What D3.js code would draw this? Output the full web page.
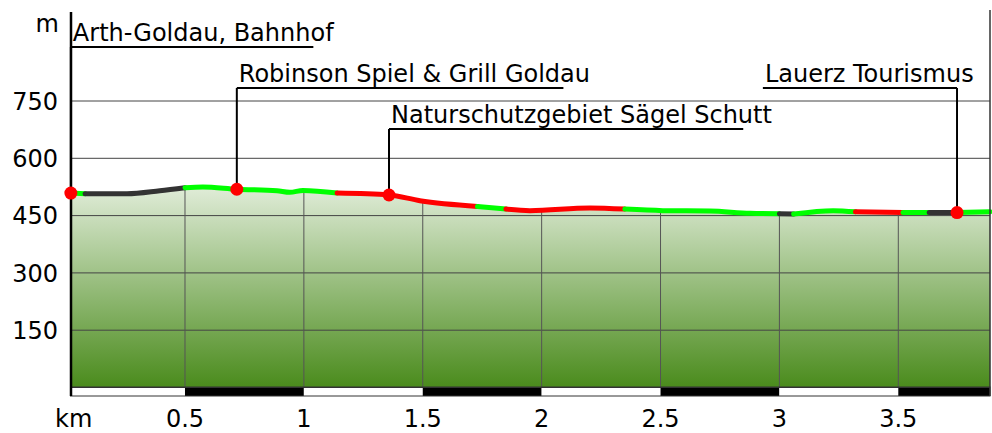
<!DOCTYPE html>
<html><head><meta charset="utf-8">
<script src="https://cdn.jsdelivr.net/npm/d3@7"></script>
<style>
body{margin:0;background:#fff}
svg{display:block}
text{font-family:"DejaVu Sans",sans-serif;fill:#000}
</style>
</head><body>
<svg id="chart" width="992" height="433"></svg>
<script>
// ---- data ----
const distanceKm = [0.02,0.08,0.256,0.394,0.50,0.575,0.718,0.887,0.941,0.996,1.14,1.358,1.488,1.73,1.85,1.951,2.203,2.35,2.51,2.708,2.877,3.00,3.06,3.226,3.32,3.52,3.63,3.747,3.886];
const elevationM = [509,507,507,515,523,525,519,515,511,516,509,504,489,474,467,463,470,467,463,462,456,455,454,463,460,458,458,458,460];
const segmentStartKm = [0.02,0.08,0.50,1.14,1.73,1.85,2.35,3.00,3.06,3.32,3.52,3.63,3.747];
const segmentEndKm   = [0.08,0.50,1.14,1.73,1.85,2.35,3.00,3.06,3.32,3.52,3.63,3.747,3.886];
const segmentType    = ["g","u","g","r","g","r","g","u","g","r","g","u","g"];
const waypointNames = ["Arth-Goldau, Bahnhof","Robinson Spiel & Grill Goldau","Naturschutzgebiet Sägel Schutt","Lauerz Tourismus"];
const waypointKm = [0.02,0.718,1.358,3.747];
const waypointElev = [509,519,504,458];
const waypointRow = [0,1,2,1];
const waypointSide = ["right","right","right","left"];
const xTicks = [0.5,1,1.5,2,2.5,3,3.5];
const xTickLabels = ["0.5","1","1.5","2","2.5","3","3.5"];
const yTicks = [150,300,450,600,750];
const yTickLabels = ["150","300","450","600","750"];

// ---- styles / layout ----
const typeColor = {g:"#00ff00", r:"#ff0000", u:"#333333"};
const plotLeft = 71, plotRight = 990, plotTop = 12;
const fontSize = 24;

const x = d3.scaleLinear().domain([0, 3.5]).range([66.1, 898.3]);
const y = d3.scaleLinear().domain([0, 750]).range([387.5, 101]);
const plotBottom = y(0);

const svg = d3.select("#chart");
const profile = distanceKm.map((k,i)=>({km:k, e:elevationM[i]}));

const defs = svg.append("defs");
const grad = defs.append("linearGradient").attr("id","fillGrad")
  .attr("gradientUnits","userSpaceOnUse").attr("x1",0).attr("x2",0)
  .attr("y1", y(d3.max(elevationM))).attr("y2", plotBottom);
grad.append("stop").attr("offset","0%").attr("stop-color","#e0ecd8");
grad.append("stop").attr("offset","100%").attr("stop-color","#4a8b1c");

const area = d3.area().x(d=>x(d.km)).y0(plotBottom).y1(d=>y(d.e)).curve(d3.curveMonotoneX);
svg.append("path").datum(profile).attr("d",area).attr("fill","url(#fillGrad)");

// horizontal gridlines
svg.append("g").selectAll("line").data(yTicks).join("line")
  .attr("x1",plotLeft).attr("x2",plotRight).attr("y1",d=>y(d)).attr("y2",d=>y(d))
  .attr("stroke","#444").attr("stroke-width",1);

// vertical gridlines (under profile only)
function elevAt(k){
  const i = d3.bisector(d=>d.km).left(profile,k);
  if(i<=0) return profile[0].e;
  if(i>=profile.length) return profile[profile.length-1].e;
  const a=profile[i-1], b=profile[i];
  return a.e + (b.e-a.e)*(k-a.km)/(b.km-a.km);
}
svg.append("g").selectAll("line").data(xTicks).join("line")
  .attr("x1",d=>x(d)).attr("x2",d=>x(d)).attr("y1",d=>y(elevAt(d))).attr("y2",plotBottom)
  .attr("stroke","#555").attr("stroke-width",1);

// profile line segments
const line = d3.line().x(d=>x(d.km)).y(d=>y(d.e)).curve(d3.curveMonotoneX);
segmentStartKm.forEach((s,i)=>{
  const e = segmentEndKm[i];
  const pts = profile.filter(p=>p.km>=s-1e-9 && p.km<=e+1e-9);
  svg.append("path").datum(pts).attr("d",line).attr("fill","none")
    .attr("stroke",typeColor[segmentType[i]]).attr("stroke-width",5)
    .attr("stroke-linecap","round").attr("stroke-linejoin","round");
});

// scale bar
const barEdges = [x.invert(plotLeft), ...xTicks, x.invert(plotRight)];
const barTop = 387, barH = 9;
svg.append("g").selectAll("rect").data(d3.pairs(barEdges)).join("rect")
  .attr("x",d=>x(d[0])).attr("width",d=>x(d[1])-x(d[0]))
  .attr("y",barTop).attr("height",barH)
  .attr("fill",(d,i)=> i%2===0 ? "#fff" : "#000");
svg.append("rect").attr("x",plotLeft-0.5).attr("y",barTop).attr("width",plotRight-plotLeft+0.5).attr("height",barH)
  .attr("fill","none").attr("stroke","#333").attr("stroke-width",1);
svg.append("line").attr("x1",plotLeft).attr("x2",plotRight).attr("y1",plotBottom).attr("y2",plotBottom)
  .attr("stroke","#333").attr("stroke-width",1);

// axes lines
svg.append("line").attr("x1",plotLeft).attr("x2",plotLeft).attr("y1",plotTop).attr("y2",barTop+barH)
  .attr("stroke","#000").attr("stroke-width",2.5);
svg.append("line").attr("x1",plotRight).attr("x2",plotRight).attr("y1",plotTop-2).attr("y2",barTop+barH)
  .attr("stroke","#333").attr("stroke-width",1.5);

// waypoints
const rowY = r => 47 + r*41;
waypointNames.forEach((name,i)=>{
  const px = x(waypointKm[i]), py = y(waypointElev[i]);
  const ly = rowY(waypointRow[i]);
  const g = svg.append("g");
  const t = g.append("text").attr("font-size",fontSize).text(name);
  const w = t.node().getComputedTextLength();
  const ul = w*0.93;
  const x0 = waypointSide[i]==="right" ? px : px - ul;
  t.attr("x", x0+2).attr("y", ly-6);
  g.append("line").attr("x1",px).attr("x2",px).attr("y1",py).attr("y2",ly)
    .attr("stroke","#000").attr("stroke-width",2);
  g.append("line").attr("x1",x0).attr("x2",x0+ul).attr("y1",ly).attr("y2",ly)
    .attr("stroke","#000").attr("stroke-width",2);
});
svg.append("g").selectAll("circle").data(waypointKm).join("circle")
  .attr("cx",d=>x(d)).attr("cy",(d,i)=>y(waypointElev[i])).attr("r",6.5).attr("fill","#ff0000");

// tick labels
svg.append("g").selectAll("text").data(yTicks).join("text")
  .attr("x",58).attr("y",d=>y(d)).attr("dy","0.36em").attr("text-anchor","end")
  .attr("font-size",fontSize).text((d,i)=>yTickLabels[i]);
svg.append("text").attr("x",59).attr("y",32).attr("text-anchor","end").attr("font-size",fontSize).text("m");
svg.append("g").selectAll("text").data(xTicks).join("text")
  .attr("x",d=>x(d)).attr("y",427).attr("text-anchor","middle")
  .attr("font-size",fontSize).text((d,i)=>xTickLabels[i]);
svg.append("text").attr("x",55).attr("y",427).attr("font-size",fontSize).text("km");
</script>
</body></html>
